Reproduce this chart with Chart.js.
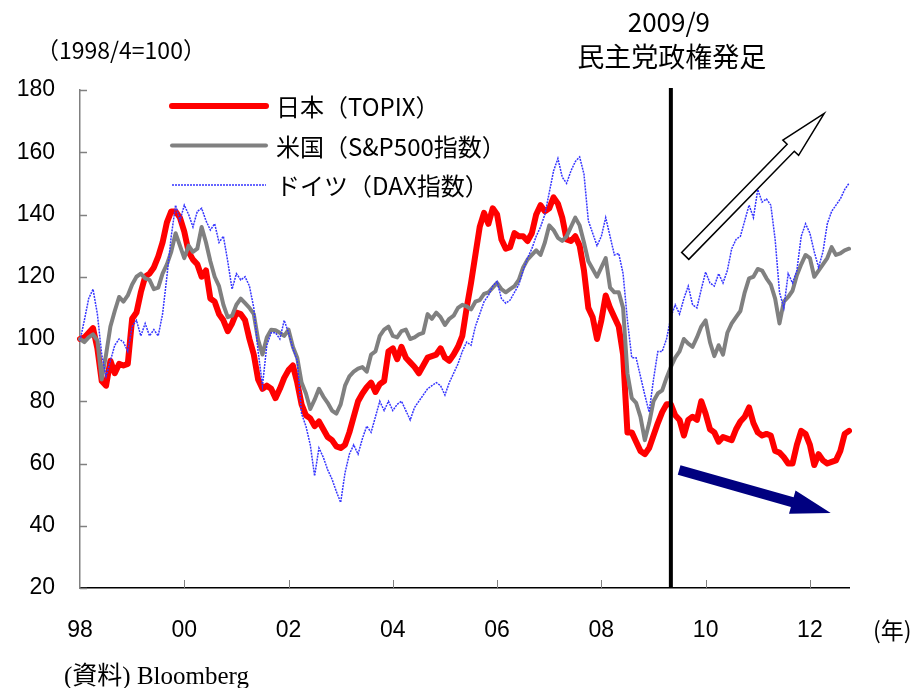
<!DOCTYPE html>
<html><head><meta charset="utf-8">
<script src="https://cdn.jsdelivr.net/npm/chart.js@4.4.1/dist/chart.umd.min.js"></script>
<style>html,body{margin:0;padding:0;background:#fff;}canvas{display:block;}</style>
</head><body>
<canvas id="c" width="915" height="688"></canvas>
<script>
// ---- data (monthly, 1998/4 = 100) ----
const startYear = 1998, startMonth = 4, monthCount = 178;
const tickLabels = ['98','00','02','04','06','08','10','12'];
const seriesNames = ['日本（TOPIX）','米国（S&P500指数）','ドイツ（DAX指数）'];
const topix = [100,100.5,102,103.5,97,86.5,85,93,89,92,91.5,92,
106.5,108.5,115,120,121,123,126.5,131,137.5,141,141,139,
134.5,128,125.5,124,120,122,113,112,108,106,102.5,105,
108.5,108,106,100,95,87,84,85,84,81,84,87.5,
90,91.5,86,79,75.5,74.5,72,73.5,71,68.5,67.5,65.5,
65,66,70,75,80,82.5,84.5,86,83,85.5,86.5,96,
97,93.5,97.5,94,92.5,91,89,91.5,94,94.5,95,97,
94,93,95,97.5,101,110,118,127,136,140.5,137,142,
140,132,129,129.5,134,133,133,131.5,134,140,143,141,
142,145.5,143.5,139,132,131.5,133,130,122,110,107,100,
106,114,110,107,104,95,70,70,67,64,63,65,
69,73,76.5,79,79,75.5,74,69,74,75,74,80,
76,71,70,67,68.5,68,67.5,71,73.5,75,78,73,
70,69,69.5,69,64,63.5,62,60,60,66,70.5,69.5,
66,59.5,63,61,60,60.5,61,64,69.5,70.5];
const sp500 = [100,99,100.5,101.5,99.5,87,95,104,109,113.5,112,114,
117.5,120,121,119.5,119,116,116.5,121,124,128,134,130,
126,130,128,129,136,131,125,120,117,111,107,107.5,
111,113,111.5,110,108,99.7,95,100.5,103,102.8,102,101,
103,97.5,94,86,82.5,77.5,80.5,84,81.5,79.5,77,76,
79,85,88,89.5,90.5,91,89.5,95,96,101,103,104,
101,100.5,102.5,103,100,100.5,101.5,102,108,106.5,108.5,107,
104.5,106.5,107.5,110,111,110.5,109.5,112,112.5,114.5,115,116.5,
118,116,115,116,117,119,123,125.5,127,128.5,127,131,
136.5,135,132.5,131.5,133,136,139,136.5,131,125,122.5,120,
123,126,116.5,115,115,110,89,81,79.5,75,67.5,73,
80,82.5,83.5,87.5,91,94,96,100,98.5,97.5,100.5,104,
106,99,94.5,98,95,102,105,107,109,115,119.5,120,
122.5,122,119.5,117.5,113,105,112,113.5,115.5,120.5,124,127,
126,120,122,124,126,129.5,127,127.5,128.5,129];
const dax = [99.5,106,113,116,108,95,88,93,98,100,99,96,
104,106,101,105,101,103,101,108,120,133,143,138,
143,140,136,141,142,138,135,137,131,133,125,116,
121,119,120,117,110,96,85,98,102,102,100,106,
102,97,93,76,72,66,56,65,62,58,55,51,
47.5,57,63,66,63,68,72,70,75,80,77,80,
77,79,80,77,74,78,80,82,84,85,86,85,
82,86,89,92,96,99,98,104,108,112,114,117,
118.5,113,111.5,112.5,115,117.5,122,126,129,133,136,140,
147,154,158,152,150,154,157,158.5,153,138,134,130,
133,139,133,127,127.5,121,106,94,94,88,82,76.5,
87,96,96,100,107,111,108,113,117,111,110,116,
121.5,118,117,121,118,122,129,132,133,138,143,139,
148,144,145,143,132,115,110,121,118,122,133,137,
134,128,123,128,137,141,143,145,148,150];
const eventIndex = 136;            // vertical line (2009/9 民主党政権発足)
const upArrow = [[139.3,126.7],[171.3,172.5]];   // [category index, value]
const downArrow = [[137.9,57.9],[172.8,44.1]];

const months = [];
for (let k = 0; k < monthCount; k++) {
  const m = startMonth - 1 + k;
  months.push((startYear + Math.floor(m / 12)) + '/' + (m % 12 + 1));
}

const JP = "'Noto Sans CJK JP', 'Noto Sans', sans-serif";
const NUM = "'Liberation Sans', Arial, sans-serif";

function arrowPath(ctx, x0, y0, x1, y1, sw, hw, hl) {
  const dx = x1 - x0, dy = y1 - y0, L = Math.hypot(dx, dy);
  const ux = dx / L, uy = dy / L, nx = -uy, ny = ux;
  const bx = x1 - ux * hl, by = y1 - uy * hl;
  ctx.beginPath();
  ctx.moveTo(x0 + nx * sw, y0 + ny * sw);
  ctx.lineTo(bx + nx * sw, by + ny * sw);
  ctx.lineTo(bx + nx * hw, by + ny * hw);
  ctx.lineTo(x1, y1);
  ctx.lineTo(bx - nx * hw, by - ny * hw);
  ctx.lineTo(bx - nx * sw, by - ny * sw);
  ctx.lineTo(x0 - nx * sw, y0 - ny * sw);
  ctx.closePath();
}

const decor = {
  id: 'decor',
  afterDatasetsDraw(chart) {
    const ctx = chart.ctx, a = chart.chartArea, x = chart.scales.x, y = chart.scales.y;
    ctx.save();
    // inward ticks on y axis
    ctx.strokeStyle = '#808080'; ctx.lineWidth = 1.5;
    y.ticks.forEach(t => {
      const py = Math.round(y.getPixelForValue(t.value)) + 0.5;
      ctx.beginPath(); ctx.moveTo(a.left, py); ctx.lineTo(a.left + 7, py); ctx.stroke();
    });
    // inward ticks on x axis
    ctx.lineWidth = 1;
    for (let k = 24; k < months.length; k += 24) {
      const px = Math.round(x.getPixelForValue(k)) + 0.5;
      ctx.beginPath(); ctx.moveTo(px, a.bottom); ctx.lineTo(px, a.bottom - 8); ctx.stroke();
    }
    // event line
    const ex = x.getPixelForValue(eventIndex);
    ctx.strokeStyle = '#000'; ctx.lineWidth = 4;
    ctx.beginPath(); ctx.moveTo(ex, a.top - 2); ctx.lineTo(ex, a.bottom); ctx.stroke();
    // arrows
    const P = p => [x.getPixelForValue(p[0]), y.getPixelForValue(p[1])];
    let s = P(upArrow[0]), e = P(upArrow[1]);
    arrowPath(ctx, s[0], s[1], e[0], e[1], 5, 11, 48);
    ctx.fillStyle = '#fff'; ctx.fill();
    ctx.strokeStyle = '#000'; ctx.lineWidth = 1.5; ctx.lineJoin = 'miter'; ctx.stroke();
    s = P(downArrow[0]); e = P(downArrow[1]);
    arrowPath(ctx, s[0], s[1], e[0], e[1], 5, 12, 40);
    ctx.fillStyle = '#000080'; ctx.fill();
    // legend
    chart.data.datasets.forEach((ds, i) => {
      const ly = a.top + 16 + i * 39.5;
      ctx.beginPath();
      ctx.strokeStyle = ds.borderColor; ctx.lineWidth = ds.borderWidth;
      ctx.lineCap = ds.borderDash ? 'butt' : 'round';
      ctx.setLineDash(ds.borderDash || []);
      ctx.moveTo(a.left + 92, ly); ctx.lineTo(a.left + 186, ly); ctx.stroke();
      ctx.setLineDash([]);
      ctx.fillStyle = '#000'; ctx.font = '24px ' + JP;
      ctx.textAlign = 'left'; ctx.textBaseline = 'middle';
      ctx.fillText(ds.label, a.left + 196, ly + 1);
    });
    // texts
    ctx.fillStyle = '#000'; ctx.textBaseline = 'middle';
    ctx.font = '23px ' + JP; ctx.textAlign = 'left';
    ctx.fillText('（1998/4=100）', 36, 50);
    ctx.font = '26px ' + JP; ctx.textAlign = 'center';
    ctx.fillText('2009/9', ex - 2, 22);
    ctx.font = '27px ' + JP;
    ctx.fillText('民主党政権発足', ex + 1, 57);
    ctx.font = '23px ' + JP; ctx.textAlign = 'left';
    ctx.fillText('(年)', 873, 630);
    ctx.font = "25px 'Liberation Serif', 'Noto Sans CJK JP', serif";
    ctx.fillText('(資料) Bloomberg', 64, 677);
    ctx.restore();
  }
};

new Chart(document.getElementById('c'), {
  type: 'line',
  data: {
    labels: months,
    datasets: [
      { label: seriesNames[0], data: topix, borderColor: '#ff0000', borderWidth: 6, order: 3,
        pointRadius: 0, tension: 0, borderJoinStyle: 'round', borderCapStyle: 'round' },
      { label: seriesNames[1], data: sp500, borderColor: '#808080', borderWidth: 4, order: 2,
        pointRadius: 0, tension: 0, borderJoinStyle: 'round', borderCapStyle: 'round' },
      { label: seriesNames[2], data: dax, borderColor: '#3535ff', borderWidth: 1.5, order: 1,
        borderDash: [2, 1], pointRadius: 0, tension: 0 }
    ]
  },
  options: {
    responsive: false, animation: false, devicePixelRatio: 1,
    layout: { padding: { top: 90, right: 66, left: 0, bottom: 0 } },
    plugins: { legend: { display: false }, tooltip: { enabled: false } },
    scales: {
      x: {
        type: 'category', offset: false,
        grid: { display: false, drawTicks: false },
        border: { display: true, color: '#000', width: 1.5 },
        ticks: {
          autoSkip: false, maxRotation: 0, minRotation: 0, padding: 29, color: '#000',
          font: { family: NUM, size: 23 },
          callback: (v, i) => (i % 24 === 0 ? tickLabels[i / 24] : null)
        },
        afterFit: s => { s.height = 100; }
      },
      y: {
        min: 20, max: 180,
        grid: { display: false, drawTicks: false },
        border: { display: true, color: '#808080', width: 1.5 },
        ticks: { stepSize: 20, padding: 25, color: '#000', font: { family: NUM, size: 23 } },
        afterFit: s => { s.width = 80; }
      }
    }
  },
  plugins: [decor]
});
</script>
</body></html>
